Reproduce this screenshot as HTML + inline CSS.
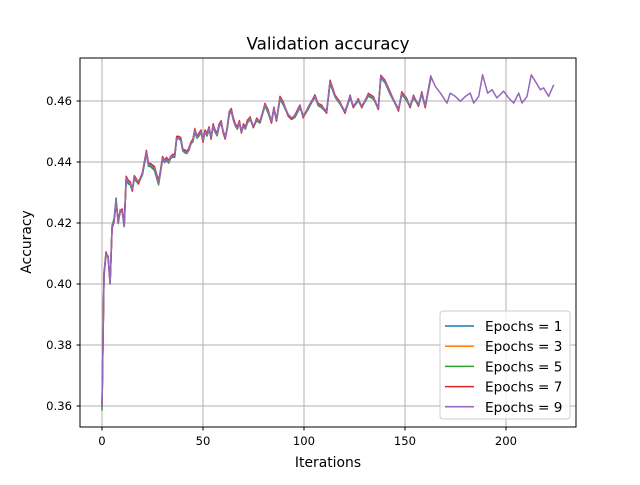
<!DOCTYPE html>
<html><head><meta charset="utf-8"><style>
body{margin:0;background:#fff;font-family:"Liberation Sans","DejaVu Sans",sans-serif}
svg text{font-family:"DejaVu Sans","Liberation Sans",sans-serif}
</style></head><body>
<svg id="chart" width="640" height="480" viewBox="0 0 640 480" xmlns="http://www.w3.org/2000/svg">
<rect width="640" height="480" fill="#fff"/>
<g id="grid"></g>
<g id="series"></g>
<rect x="80" y="58" width="496" height="369" fill="none" stroke="#000" stroke-width="1"/>
<g id="ticks"></g>
<text x="328" y="49.5" font-size="16.7" text-anchor="middle">Validation accuracy</text>
<text x="328" y="467" font-size="13.9" text-anchor="middle">Iterations</text>
<text x="31" y="242" font-size="13.9" text-anchor="middle" transform="rotate(-90 31 242)">Accuracy</text>
<g id="legend"></g>
</svg>
<script>
const xTicks=[0,50,100,150,200];
const yTicks=[0.36,0.38,0.40,0.42,0.44,0.46];
const yTickLabels=["0.36","0.38","0.40","0.42","0.44","0.46"];
const seriesNames=["Epochs = 1","Epochs = 3","Epochs = 5","Epochs = 7","Epochs = 9"];
const colors=["#1f77b4","#ff7f0e","#2ca02c","#d62728","#9467bd"];
const iters=[0,1,2,3,4,5,6,7,8,9,10,11,12,13,14,15,16,17,18,20,22,23,24,26,28,29,30,31,32,33,34,35,36,37,38,39,40,41,42,43,44,45,46,47,48,49,50,51,52,53,54,55,56,57,58,59,60,61,62,63,64,65,66,67,68,69,70,71,72,73.3,74.9,76.6,78.2,80.7,82.3,83.9,85.1,86.4,88.1,89.7,92.2,93.8,95.5,98,99.6,102.1,105.4,107,108.7,111.2,112.9,115.4,117.8,120.3,122.8,124.4,126.9,128.6,131.9,134.4,136.8,138,140.1,142.6,146.8,148.4,150.9,152.5,154.2,156.7,158.3,160,162.8,165,167.5,170.8,172.4,174.9,177.4,179.9,182.3,184,186.5,188.4,190.9,193.1,195.5,198.8,201.3,203.8,206.3,207.9,210.4,212.5,215,217,218.6,221.1,223.6];
const epochs9=[0.3593,0.4036,0.410,0.409,0.400,0.4187,0.421,0.4275,0.420,0.424,0.424,0.419,0.4348,0.4335,0.433,0.431,0.435,0.434,0.4335,0.436,0.4433,0.439,0.439,0.438,0.4331,0.437,0.4414,0.440,0.441,0.440,0.4415,0.442,0.442,0.4479,0.448,0.4475,0.4439,0.4435,0.443,0.444,0.446,0.447,0.4505,0.448,0.449,0.450,0.447,0.450,0.449,0.451,0.448,0.452,0.450,0.449,0.452,0.453,0.450,0.448,0.451,0.456,0.457,0.454,0.452,0.451,0.453,0.450,0.452,0.451,0.453,0.4544,0.4517,0.4539,0.4533,0.4588,0.4566,0.4533,0.4577,0.4539,0.461,0.4593,0.4555,0.4544,0.455,0.4583,0.455,0.4577,0.4615,0.4588,0.4583,0.4566,0.4664,0.4615,0.4593,0.4566,0.4615,0.4583,0.4604,0.4583,0.4621,0.461,0.4577,0.468,0.4664,0.4626,0.4572,0.4626,0.4604,0.4583,0.4615,0.4588,0.4626,0.4583,0.468,0.4648,0.4626,0.4593,0.4626,0.4615,0.4599,0.4615,0.4626,0.4593,0.4615,0.4686,0.4626,0.4637,0.461,0.4632,0.461,0.4593,0.4626,0.4593,0.4615,0.4686,0.4659,0.4637,0.4643,0.4615,0.4653];
const epochs1=[0.3600,0.4030,0.4095,0.409,0.4005,0.4190,0.4212,0.4270,0.4205,0.4238,0.4242,0.4192,0.4345,0.4330,0.4328,0.4312,0.4348,0.4340,0.4333,0.4360,0.4430,0.4392,0.4388,0.4378,0.4335,0.4370,0.4412,0.4402,0.4408,0.4398,0.4415,0.4420,0.4418,0.4477,0.4480,0.4473,0.4440,0.4433,0.4432,0.4440,0.4462,0.4468,0.4500,0.4482,0.4488,0.4500,0.4472,0.4502,0.4488,0.4510,0.4482,0.4518,0.4502,0.4490,0.4520,0.4528,0.4502,0.4482,0.4512,0.4558,0.4568,0.4542,0.4522,0.4512,0.4530,0.4502,0.4520,0.4512,0.4532,0.4542,0.4518,0.4537,0.4535,0.4585,0.4565,0.4535,0.4575,0.4540,0.4608,0.4590,0.4556,0.4545,0.4550,0.4580,0.4552,0.4575,0.4612,0.4588,0.4582,0.4568,0.4660,0.4614,0.4592,0.4567,0.4612,0.4584,0.4602,0.4584,0.4618,0.4608,0.4578,0.4678,0.4662,0.4625,0.4574,0.4624,0.4603,0.4584,0.4613,0.4589,0.4624,0.4584,0.4678];
const epochs3=[0.3598,0.4040,0.4102,0.4088,0.4002,0.4185,0.4208,0.4272,0.4202,0.4245,0.4240,0.4190,0.4350,0.4337,0.4331,0.4308,0.4352,0.4342,0.4337,0.4362,0.4435,0.4388,0.4392,0.4382,0.4333,0.4372,0.4416,0.4398,0.4412,0.4402,0.4413,0.4422,0.4421,0.4482,0.4478,0.4477,0.4437,0.4437,0.4428,0.4442,0.4458,0.4472,0.4510,0.4478,0.4492,0.4502,0.4468,0.4498,0.4492,0.4508,0.4478,0.4522,0.4498,0.4492,0.4518,0.4532,0.4498,0.4478,0.4508,0.4562,0.4572,0.4538,0.4518,0.4508,0.4535,0.4498,0.4518,0.4508,0.4538,0.4546,0.4515,0.4541,0.4531,0.4590,0.4568,0.4531,0.4578,0.4537,0.4612,0.4595,0.4553,0.4542,0.4552,0.4585,0.4548,0.4578,0.4617,0.4586,0.4585,0.4564,0.4666,0.4617,0.4591,0.4564,0.4617,0.4581,0.4606,0.4581,0.4623,0.4612,0.4575,0.4682,0.4666,0.4628,0.4570,0.4628,0.4606,0.4581,0.4617,0.4586,0.4628,0.4581,0.4682];
const epochs5=[0.3585,0.4032,0.4098,0.4092,0.4000,0.4192,0.4215,0.4282,0.4198,0.4240,0.4236,0.4188,0.4342,0.4328,0.4325,0.4305,0.4345,0.4336,0.4330,0.4357,0.4428,0.4386,0.4385,0.4372,0.4325,0.4366,0.4410,0.4398,0.4405,0.4396,0.4412,0.4416,0.4415,0.4475,0.4477,0.4470,0.4436,0.4430,0.4428,0.4438,0.4460,0.4466,0.4498,0.4478,0.4485,0.4497,0.4468,0.4498,0.4485,0.4506,0.4478,0.4515,0.4498,0.4486,0.4517,0.4525,0.4498,0.4478,0.4508,0.4555,0.4566,0.4538,0.4518,0.4508,0.4527,0.4498,0.4517,0.4508,0.4528,0.4540,0.4514,0.4535,0.4528,0.4584,0.4560,0.4528,0.4574,0.4535,0.4606,0.4588,0.4552,0.4540,0.4546,0.4578,0.4548,0.4572,0.4620,0.4585,0.4578,0.4562,0.4658,0.4612,0.4590,0.4562,0.4610,0.4580,0.4600,0.4580,0.4616,0.4606,0.4574,0.4675,0.4660,0.4622,0.4570,0.4622,0.4600,0.4580,0.4610,0.4585,0.4622,0.4580,0.4675];
const epochs7=[0.3602,0.4025,0.4105,0.4085,0.4008,0.4182,0.4205,0.4268,0.4208,0.4235,0.4246,0.4195,0.4353,0.4340,0.4335,0.4305,0.4355,0.4345,0.4328,0.4365,0.4438,0.4395,0.4395,0.4385,0.4338,0.4375,0.4418,0.4405,0.4415,0.4405,0.4418,0.4425,0.4425,0.4484,0.4484,0.4480,0.4442,0.4440,0.4434,0.4446,0.4465,0.4475,0.4508,0.4485,0.4495,0.4505,0.4465,0.4505,0.4495,0.4515,0.4475,0.4525,0.4505,0.4495,0.4525,0.4535,0.4495,0.4475,0.4515,0.4565,0.4575,0.4545,0.4525,0.4515,0.4535,0.4495,0.4525,0.4515,0.4535,0.4548,0.4512,0.4544,0.4530,0.4592,0.4570,0.4528,0.4580,0.4534,0.4615,0.4597,0.4550,0.4540,0.4554,0.4587,0.4545,0.4580,0.4619,0.4592,0.4587,0.4560,0.4668,0.4619,0.4597,0.4560,0.4619,0.4578,0.4608,0.4578,0.4625,0.4614,0.4572,0.4684,0.4668,0.4630,0.4567,0.4630,0.4608,0.4578,0.4619,0.4583,0.4630,0.4578,0.4684];
const allSeries=[epochs1,epochs3,epochs5,epochs7,epochs9];
const NS="http://www.w3.org/2000/svg";
function xScale(i){return 102+2.02*i;}
function yScale(v){return 406-(v-0.36)*3050;}
function mk(tag,attrs,parent){const e=document.createElementNS(NS,tag);for(const k in attrs)e.setAttribute(k,attrs[k]);parent.appendChild(e);return e;}
const grid=document.getElementById('grid'),ticks=document.getElementById('ticks');
xTicks.forEach(t=>{const x=xScale(t);
 const g=mk('line',{x1:x,x2:x,y1:58,y2:427,stroke:'#b0b0b0','stroke-width':1},grid);
 
 
 mk('line',{x1:x,x2:x,y1:427,y2:430.5,stroke:'#000'},ticks);
 const tx=mk('text',{x:x,y:445,'font-size':11.6,'text-anchor':'middle'},ticks);tx.textContent=String(t);
 
 });
yTicks.forEach((t,i)=>{const y=yScale(t);
 const g=mk('line',{x1:80,x2:576,y1:y,y2:y,stroke:'#b0b0b0','stroke-width':1},grid);
 
 
 mk('line',{x1:76.5,x2:80,y1:y,y2:y,stroke:'#000'},ticks);
 const tx=mk('text',{x:72,y:y+4,'font-size':11.6,'text-anchor':'end'},ticks);tx.textContent=yTickLabels[i];
 
 });
const sg=document.getElementById('series');
allSeries.forEach((vals,s)=>{const pts=vals.map((v,j)=>xScale(iters[j]).toFixed(1)+','+yScale(v).toFixed(1)).join(' ');
 const p=mk('polyline',{points:pts,fill:'none',stroke:colors[s],'stroke-width':1.5,'stroke-linejoin':'round'},sg);
 
 });
const lg=document.getElementById('legend');
const box=mk('rect',{x:440,y:311,width:130,height:108,rx:3,fill:'#fff','fill-opacity':0.8,stroke:'#ccc'},lg);


seriesNames.forEach((n,i)=>{const y=326+i*20.2;
 const l=mk('line',{x1:445,x2:474,y1:y,y2:y,stroke:colors[i],'stroke-width':1.5},lg);
 
 
 const t=mk('text',{x:485,y:y+5,'font-size':13.6},lg);t.textContent=n;
 
 });
</script>
</body></html>
